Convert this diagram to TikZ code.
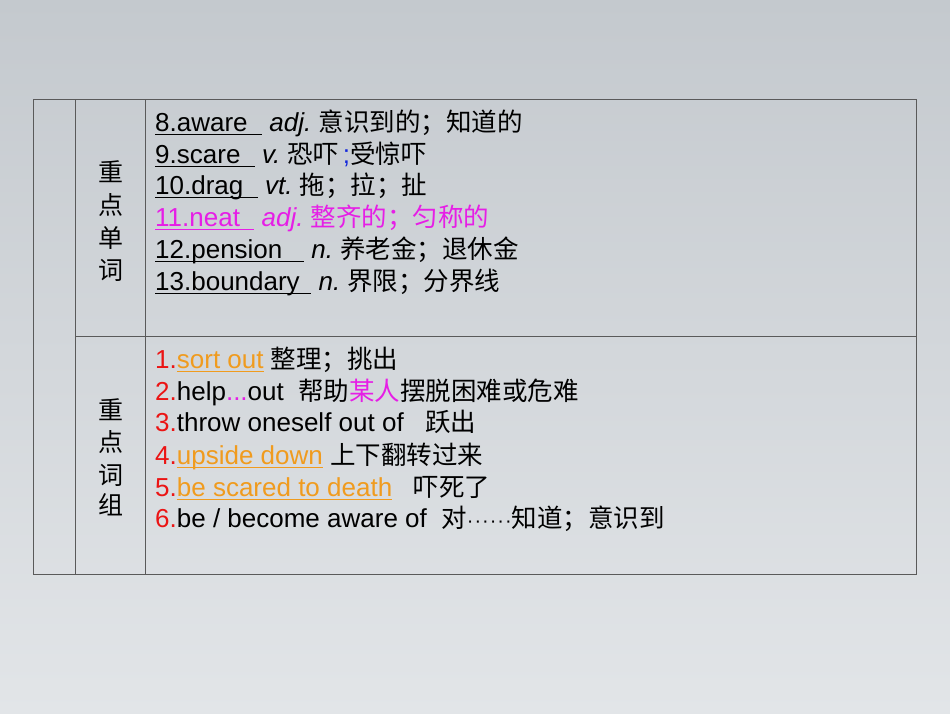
\documentclass[tikz,border=0pt]{standalone}
\usepackage{fontspec}
\setmainfont{Liberation Sans}
\newfontfamily\cjk{Noto Sans CJK SC}
\newcommand{\zh}[1]{{\fontsize{25.5}{29}\selectfont\cjk #1}}
\newcommand{\ul}[1]{\setbox0\hbox{#1}\rlap{\rule[-4pt]{\wd0}{1.3pt}}\box0}
\definecolor{bgtop}{RGB}{196,201,206}
\definecolor{bgbot}{RGB}{226,229,232}
\definecolor{numred}{RGB}{235,20,20}
\definecolor{orng}{RGB}{240,155,30}
\definecolor{mag}{RGB}{230,30,230}
\definecolor{semblue}{RGB}{20,40,220}
\definecolor{grid}{RGB}{90,90,90}
\begin{document}
\begin{tikzpicture}[x=1pt,y=-1pt,
  txt/.style={anchor=base west,inner sep=0pt,font=\fontsize{26}{30}\selectfont},
  lab/.style={anchor=center,inner sep=0pt,font=\fontsize{25}{30}\selectfont\cjk},
  tline/.style={draw=grid,line width=0.8pt}]
\shade[top color=bgtop,bottom color=bgbot] (0,0) rectangle (950,713);
\useasboundingbox (0,0) rectangle (950,713);
\draw[tline] (33,99) rectangle (916,574);
\draw[tline] (75,99) -- (75,574);
\draw[tline] (145,99) -- (145,574);
\draw[tline] (75,336) -- (916,336);
% labels
\node[lab] (a1) at (111,172) {重};
\node[lab] (a2) at (111,205) {点};
\node[lab] (a3) at (111,238) {单};
\node[lab] (a4) at (111,270) {词};
\node[lab] (b1) at (111,410) {重};
\node[lab] (b2) at (111,442) {点};
\node[lab] (b3) at (111,475) {词};
\node[lab] (b4) at (111,505) {组};
% words
\node[txt] (w8) at (155,131) {\ul{8.aware\ \ }\ \textit{adj.}\ \zh{意识到的；知道的}};
\node[txt] (w9) at (155,163) {\ul{9.scare\ \ }\ \textit{v.}\ \zh{恐吓}\,{\color{semblue};}\zh{受惊吓}};
\node[txt] (w10) at (155,194) {\ul{10.drag\ \ }\ \textit{vt.}\ \zh{拖；拉；扯}};
\node[txt,text=mag] (w11) at (155,226) {\ul{11.neat\ \ }\ \textit{adj.}\ \zh{整齐的；匀称的}};
\node[txt] (w12) at (155,258) {\ul{12.pension\ \ \ }\ \textit{n.}\ \zh{养老金；退休金}};
\node[txt] (w13) at (155,290) {\ul{13.boundary\ \,}\ \textit{n.}\ \zh{界限；分界线}};
% phrases
\node[txt] (p1) at (155,368) {{\color{numred}1.}{\color{orng}\ul{sort out}}\ \zh{整理；挑出}};
\node[txt] (p2) at (155,400) {{\color{numred}2.}help{\color{mag}...}out\ \ \zh{帮助{\color{mag}某人}摆脱困难或危难}};
\node[txt] (p3) at (155,431) {{\color{numred}3.}throw oneself out of\ \ \ \zh{跃出}};
\node[txt] (p4) at (155,464) {{\color{numred}4.}{\color{orng}\ul{upside down}}\ \zh{上下翻转过来}};
\node[txt] (p5) at (155,496) {{\color{numred}5.}{\color{orng}\ul{be scared to death}}\ \ \ \zh{吓死了}};
\node[txt] (p6) at (155,527) {{\color{numred}6.}be / become aware of\ \ \zh{对}{\fontsize{20}{24}\selectfont ·\kern1pt·\kern1pt·\kern1pt·\kern1pt·\kern1pt·}\zh{知道；意识到}};
\end{tikzpicture}
\end{document}
